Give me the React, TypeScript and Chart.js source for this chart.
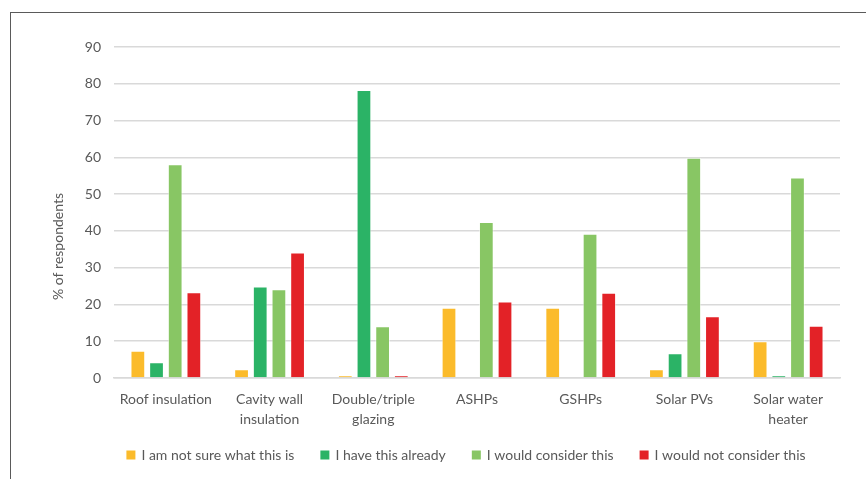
import React, { useEffect, useRef } from "react";
import { Chart, registerables } from "chart.js";

Chart.register(...registerables);

const categories: (string | string[])[] = [
  "Roof insulation",
  ["Cavity wall", "insulation"],
  ["Double/triple", "glazing"],
  "ASHPs",
  "GSHPs",
  "Solar PVs",
  ["Solar water", "heater"],
];

const notSure = [7.4, 2.4, 0.7, 19.1, 19.1, 2.4, 10.0];
const haveAlready = [4.3, 24.9, 78.3, 0, 0, 6.7, 0.7];
const wouldConsider = [58.1, 24.1, 14.1, 42.4, 39.2, 59.9, 54.5];
const wouldNotConsider = [23.3, 34.1, 0.7, 20.8, 23.2, 16.8, 14.2];

const seriesNames = [
  "I am not sure what this is",
  "I have this already",
  "I would consider this",
  "I would not consider this",
];
const seriesColors = ["#FBBB2B", "#2BB366", "#88C664", "#E32227"];

const yTitle = "% of respondents";
const FONT = "Lato, 'Open Sans', sans-serif";
const TEXT = "#595959";
const FS = 14;

const yTitlePlugin = {
  id: "yTitlePlugin",
  afterDraw(chart: any) {
    const { ctx, chartArea } = chart;
    ctx.save();
    ctx.font = `${FS}px ${FONT}`;
    ctx.fillStyle = TEXT;
    ctx.textAlign = "center";
    ctx.textBaseline = "middle";
    ctx.translate(chartArea.left - 56, (chartArea.top + chartArea.bottom) / 2 + 34);
    ctx.rotate(-Math.PI / 2);
    ctx.fillText(yTitle, 0, 0);
    ctx.restore();
  },
};

const legendPlugin = {
  id: "customLegend",
  afterDraw(chart: any) {
    const { ctx, chartArea } = chart;
    const box = 9;
    const textGap = 6;
    const itemGap = 26;
    ctx.save();
    ctx.font = `${FS}px ${FONT}`;
    const items = chart.data.datasets.map((ds: any) => ({
      text: ds.label as string,
      color: ds.backgroundColor as string,
      w: box + textGap + ctx.measureText(ds.label).width,
    }));
    const total =
      items.reduce((s: number, it: any) => s + it.w, 0) + itemGap * (items.length - 1);
    const cx = (chartArea.left + chartArea.right) / 2 - 11;
    const cy = chartArea.bottom + 77;
    let x = cx - total / 2;
    ctx.textBaseline = "middle";
    ctx.textAlign = "left";
    for (const it of items) {
      ctx.fillStyle = it.color;
      ctx.fillRect(x, cy - box / 2, box, box);
      ctx.fillStyle = TEXT;
      ctx.fillText(it.text, x + box + textGap, cy);
      x += it.w + itemGap;
    }
    ctx.restore();
  },
};

export default function App() {
  const ref = useRef<HTMLCanvasElement | null>(null);

  useEffect(() => {
    if (!ref.current) return;
    const data = [notSure, haveAlready, wouldConsider, wouldNotConsider];
    const chart = new Chart(ref.current, {
      type: "bar",
      data: {
        labels: categories,
        datasets: data.map((d, i) => ({
          label: seriesNames[i],
          data: d,
          backgroundColor: seriesColors[i],
          borderColor: "rgba(255,255,255,0.5)",
          borderWidth: 1,
          categoryPercentage: 0.72,
          barPercentage: 0.79,
        })),
      },
      options: {
        responsive: false,
        animation: false,
        layout: { padding: { top: 47, right: 26, bottom: 49, left: 74 } },
        plugins: {
          legend: { display: false },
          tooltip: { enabled: false },
        },
        scales: {
          x: {
            grid: { display: false, drawTicks: false },
            border: { display: true, color: "#D9D9D9", width: 1.5 },
            ticks: {
              color: TEXT,
              padding: 11,
              maxRotation: 0,
              autoSkip: false,
              font: { family: FONT, size: FS, lineHeight: 1.43 },
            },
            afterFit: (axis: any) => {
              axis.height = 52;
            },
          },
          y: {
            min: 0,
            max: 90,
            grid: { color: "#D9D9D9", lineWidth: 1.5, drawTicks: false },
            border: { display: false },
            ticks: {
              stepSize: 10,
              color: TEXT,
              padding: 13,
              font: { family: FONT, size: FS },
            },
            afterFit: (axis: any) => {
              axis.width = 40;
            },
          },
        },
      },
      plugins: [yTitlePlugin, legendPlugin],
    });
    return () => chart.destroy();
  }, []);

  return (
    <div
      style={{
        position: "fixed",
        left: 0,
        top: 0,
        width: 866,
        height: 479,
        background: "#fff",
        overflow: "hidden",
      }}
    >
      <canvas ref={ref} width={866} height={479} style={{ display: "block" }} />
      <div
        style={{
          position: "absolute",
          left: 10,
          top: 12,
          right: 0,
          bottom: 0,
          borderLeft: "1.5px solid #5a5a5a",
          borderTop: "1.5px solid #5a5a5a",
          pointerEvents: "none",
        }}
      />
    </div>
  );
}
